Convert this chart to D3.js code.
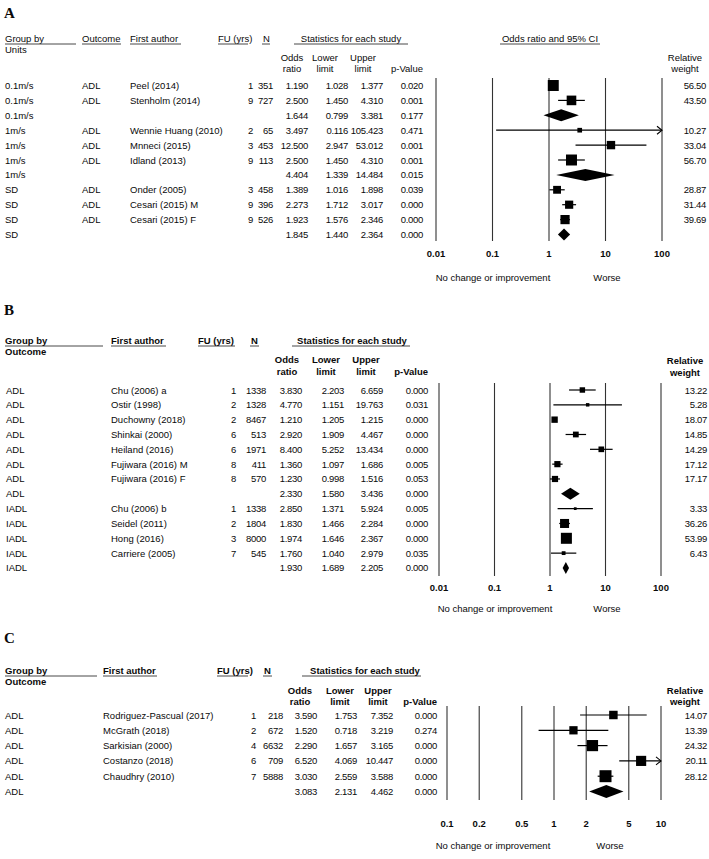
<!DOCTYPE html>
<html><head><meta charset="utf-8">
<script src="https://cdn.jsdelivr.net/npm/d3@7"></script>
<style>
body{margin:0;background:#fff;}
svg text{font-family:"Liberation Sans",Arial,sans-serif;fill:#0a0a0a;}
</style></head><body>
<svg id="c" width="709" height="859"></svg>
<script>
// ---------- Panel A data ----------
const aGroup = ["0.1m/s","0.1m/s","0.1m/s","1m/s","1m/s","1m/s","1m/s","SD","SD","SD","SD"];
const aOutcome = ["ADL","ADL","","ADL","ADL","ADL","","ADL","ADL","ADL",""];
const aAuthor = ["Peel (2014)","Stenholm (2014)","","Wennie Huang (2010)","Mnneci (2015)","Idland (2013)","","Onder (2005)","Cesari (2015) M","Cesari (2015) F",""];
const aFU = [1,9,null,2,3,9,null,3,9,9,null];
const aN = [351,727,null,65,453,113,null,458,396,526,null];
const aOR = [1.190,2.500,1.644,3.497,12.500,2.500,4.404,1.389,2.273,1.923,1.845];
const aLower = [1.028,1.450,0.799,0.116,2.947,1.450,1.339,1.016,1.712,1.576,1.440];
const aUpper = [1.377,4.310,3.381,105.423,53.012,4.310,14.484,1.898,3.017,2.346,2.364];
const aP = [0.020,0.001,0.177,0.471,0.001,0.001,0.015,0.039,0.000,0.000,0.000];
const aWeight = [56.50,43.50,null,10.27,33.04,56.70,null,28.87,31.44,39.69,null];
const aTicks = [0.01,0.1,1,10,100];
const aTickLabels = ["0.01","0.1","1","10","100"];

// ---------- Panel B data ----------
const bGroup = ["ADL","ADL","ADL","ADL","ADL","ADL","ADL","ADL","IADL","IADL","IADL","IADL","IADL"];
const bAuthor = ["Chu (2006) a","Ostir (1998)","Duchowny (2018)","Shinkai (2000)","Heiland (2016)","Fujiwara (2016) M","Fujiwara (2016) F","","Chu (2006) b","Seidel (2011)","Hong (2016)","Carriere (2005)",""];
const bFU = [1,2,2,6,6,8,8,null,1,2,3,7,null];
const bN = [1338,1328,8467,513,1971,411,570,null,1338,1804,8000,545,null];
const bOR = [3.830,4.770,1.210,2.920,8.400,1.360,1.230,2.330,2.850,1.830,1.974,1.760,1.930];
const bLower = [2.203,1.151,1.205,1.909,5.252,1.097,0.998,1.580,1.371,1.466,1.646,1.040,1.689];
const bUpper = [6.659,19.763,1.215,4.467,13.434,1.686,1.516,3.436,5.924,2.284,2.367,2.979,2.205];
const bP = [0.000,0.031,0.000,0.000,0.000,0.005,0.053,0.000,0.005,0.000,0.000,0.035,0.000];
const bWeight = [13.22,5.28,18.07,14.85,14.29,17.12,17.17,null,3.33,36.26,53.99,6.43,null];
const bTicks = [0.01,0.1,1,10,100];
const bTickLabels = ["0.01","0.1","1","10","100"];

// ---------- Panel C data ----------
const cGroup = ["ADL","ADL","ADL","ADL","ADL","ADL"];
const cAuthor = ["Rodriguez-Pascual (2017)","McGrath (2018)","Sarkisian (2000)","Costanzo (2018)","Chaudhry (2010)",""];
const cFU = [1,2,4,6,7,null];
const cN = [218,672,6632,709,5888,null];
const cOR = [3.590,1.520,2.290,6.520,3.030,3.083];
const cLower = [1.753,0.718,1.657,4.069,2.559,2.131];
const cUpper = [7.352,3.219,3.165,10.447,3.588,4.462];
const cP = [0.000,0.274,0.000,0.000,0.000,0.000];
const cWeight = [14.07,13.39,24.32,20.11,28.12,null];
const cTicks = [0.1,0.2,0.5,1,2,5,10];
const cTickLabels = ["0.1","0.2","0.5","1","2","5","10"];

const svg = d3.select("#c");
const f3 = d3.format(".3f"), f2 = d3.format(".2f");
const FS = 9.5;

function panel(o){
  const g = svg.append("g");
  const n = o.or.length;
  const y = d3.scaleLinear().domain([0, n-1]).range([o.y0, o.y0 + o.dy*(n-1)]);
  const x = d3.scaleLog().domain(o.domain).range(o.xr);
  const box = d3.scaleSqrt().domain([0, 60]).range([0, o.boxMax]);

  g.append("text").attr("x",4).attr("y",o.labelY).attr("dominant-baseline","central")
    .style("font-family","'Liberation Serif',serif").attr("font-weight","bold").attr("font-size",15).text(o.label);

  o.headers.forEach(h=>{
    g.append("text").attr("x",h[1]).attr("y",h[2]).attr("text-anchor",h[3]||"middle")
      .attr("dominant-baseline","central").attr("font-size",FS).attr("font-weight",o.hw).text(h[0]);
    if(h[4]) g.append("line").attr("x1",h[4][0]).attr("x2",h[4][1]).attr("y1",h[2]+6).attr("y2",h[2]+6)
      .attr("stroke","#333").attr("stroke-width",0.9);
  });

  o.cols.forEach(c=>{
    g.selectAll(null).data(c.v).join("text")
      .attr("x",c.x).attr("y",(d,i)=>y(i)).attr("text-anchor",c.a)
      .attr("dominant-baseline","central").attr("font-size",FS)
      .attr("letter-spacing", c.f||c.num ? -0.3 : 0)
      .text(d=> d==null||d==="" ? "" : (c.f? c.f(d): d));
  });

  g.selectAll(null).data(o.ticks).join("line")
    .attr("x1",d=>x(d)).attr("x2",d=>x(d)).attr("y1",o.vl[0]).attr("y2",o.vl[1])
    .attr("stroke","#333").attr("stroke-width",1.1);
  g.selectAll(null).data(o.ticks).join("text")
    .attr("x",d=>x(d)).attr("y",o.tickY).attr("text-anchor","middle").attr("dominant-baseline","central")
    .attr("font-size",FS).attr("font-weight","bold").text((d,i)=>o.tickLabels[i]);

  const [dMin,dMax] = o.domain;
  const rows = d3.range(n).map(i=>({i, or:o.or[i], lo:o.lo[i], hi:o.hi[i], w:o.w[i]}));
  const studies = rows.filter(r=>r.w!=null), sums = rows.filter(r=>r.w==null);

  g.selectAll(null).data(studies).join("line")
    .attr("x1",d=>x(Math.max(d.lo,dMin))).attr("x2",d=>x(Math.min(d.hi,dMax)))
    .attr("y1",d=>y(d.i)).attr("y2",d=>y(d.i)).attr("stroke","#000").attr("stroke-width",1.2);
  g.selectAll(null).data(studies.filter(d=>d.hi>dMax)).join("path")
    .attr("d",d=>{const X=x(dMax),Y=y(d.i);return `M${X-5},${Y-4}L${X},${Y}L${X-5},${Y+4}`;})
    .attr("fill","none").attr("stroke","#000").attr("stroke-width",1.1);
  g.selectAll(null).data(studies).join("rect")
    .attr("x",d=>x(d.or)-box(d.w)/2).attr("y",d=>y(d.i)-box(d.w)/2)
    .attr("width",d=>box(d.w)).attr("height",d=>box(d.w)).attr("fill","#000");
  g.selectAll(null).data(sums).join("path")
    .attr("d",d=>{const Y=y(d.i),h=o.dh/2;return `M${x(d.lo)},${Y}L${x(d.or)},${Y-h}L${x(d.hi)},${Y}L${x(d.or)},${Y+h}Z`;})
    .attr("fill","#000");

  g.append("text").attr("x",o.bl[0]).attr("y",o.bl[2]).attr("text-anchor","middle").attr("dominant-baseline","central")
    .attr("font-size",FS).text("No change or improvement");
  g.append("text").attr("x",o.bl[1]).attr("y",o.bl[2]).attr("text-anchor","middle").attr("dominant-baseline","central")
    .attr("font-size",FS).text("Worse");
}

panel({
  label:"A", labelY:13, hw:"normal",
  or:aOR, lo:aLower, hi:aUpper, w:aWeight,
  y0:85.5, dy:14.9, domain:[0.01,100], xr:[436,662], boxMax:11.3, dh:12,
  ticks:aTicks, tickLabels:aTickLabels, vl:[78,241], tickY:253, bl:[493,607,277],
  headers:[
    ["Group by",5,38,"start",[5,76]],["Units",5,49,"start"],
    ["Outcome",82,38,"start",[82,121]],["First author",130,38,"start",[130,181]],
    ["FU (yrs)",218,38,"start",[218,248]],["N",263,38,"start",[262,270]],
    ["Statistics for each study",351,38,"middle",[294,408]],
    ["Odds ratio and 95%  CI",550,38,"middle",[500,600]],
    ["Odds",292,57],["ratio",292,68],["Lower",325,57],["limit",325,68],
    ["Upper",363,57],["limit",363,68],["p-Value",423,68,"end"],
    ["Relative",685,57],["weight",685,68]
  ],
  cols:[
    {v:aGroup,x:5,a:"start"},{v:aOutcome,x:82,a:"start"},{v:aAuthor,x:130,a:"start"},
    {v:aFU,x:253,a:"end",num:1},{v:aN,x:273,a:"end",num:1},
    {v:aOR,x:308,a:"end",f:f3},{v:aLower,x:348,a:"end",f:f3},{v:aUpper,x:383,a:"end",f:f3},
    {v:aP,x:423,a:"end",f:f3},{v:aWeight,x:706,a:"end",f:f2}
  ]
});

panel({
  label:"B", labelY:310, hw:"bold",
  or:bOR, lo:bLower, hi:bUpper, w:bWeight,
  y0:390, dy:14.83, domain:[0.01,100], xr:[439,661], boxMax:11.6, dh:12,
  ticks:bTicks, tickLabels:bTickLabels, vl:[383,576], tickY:587, bl:[495,607,608],
  headers:[
    ["Group by",5,340,"start",[5,103]],["Outcome",5,351,"start"],
    ["First author",111,340,"start",[111,166]],["FU (yrs)",198,340,"start",[198,235]],
    ["N",251,340,"start",[250,259]],
    ["Statistics for each study",352,340,"middle",[292,410]],
    ["Odds",287,359],["ratio",287,371],["Lower",326,359],["limit",326,371],
    ["Upper",366,359],["limit",366,371],["p-Value",428,371,"end"],
    ["Relative",685,360],["weight",685,372]
  ],
  cols:[
    {v:bGroup,x:6,a:"start"},{v:bAuthor,x:111,a:"start"},
    {v:bFU,x:236,a:"end",num:1},{v:bN,x:266,a:"end",num:1},
    {v:bOR,x:302,a:"end",f:f3},{v:bLower,x:344,a:"end",f:f3},{v:bUpper,x:383,a:"end",f:f3},
    {v:bP,x:428,a:"end",f:f3},{v:bWeight,x:707,a:"end",f:f2}
  ]
});

panel({
  label:"C", labelY:638, hw:"bold",
  or:cOR, lo:cLower, hi:cUpper, w:cWeight,
  y0:715, dy:15.3, domain:[0.1,10], xr:[447,661], boxMax:17.5, dh:13,
  ticks:cTicks, tickLabels:cTickLabels, vl:[706,800], tickY:823, bl:[493,610,845],
  headers:[
    ["Group by",5,670,"start",[5,97]],["Outcome",5,681,"start"],
    ["First author",103,670,"start",[103,157]],["FU (yrs)",217,670,"start",[217,248]],
    ["N",264,670,"start",[263,272]],
    ["Statistics for each study",365,670,"middle",[302,421]],
    ["Odds",300,690],["ratio",300,701],["Lower",340,690],["limit",340,701],
    ["Upper",378,690],["limit",378,701],["p-Value",437,701,"end"],
    ["Relative",685,690],["weight",685,701]
  ],
  cols:[
    {v:cGroup,x:5,a:"start"},{v:cAuthor,x:103,a:"start"},
    {v:cFU,x:256,a:"end",num:1},{v:cN,x:283,a:"end",num:1},
    {v:cOR,x:317,a:"end",f:f3},{v:cLower,x:357,a:"end",f:f3},{v:cUpper,x:393,a:"end",f:f3},
    {v:cP,x:437,a:"end",f:f3},{v:cWeight,x:707,a:"end",f:f2}
  ]
});
</script>
</body></html>
